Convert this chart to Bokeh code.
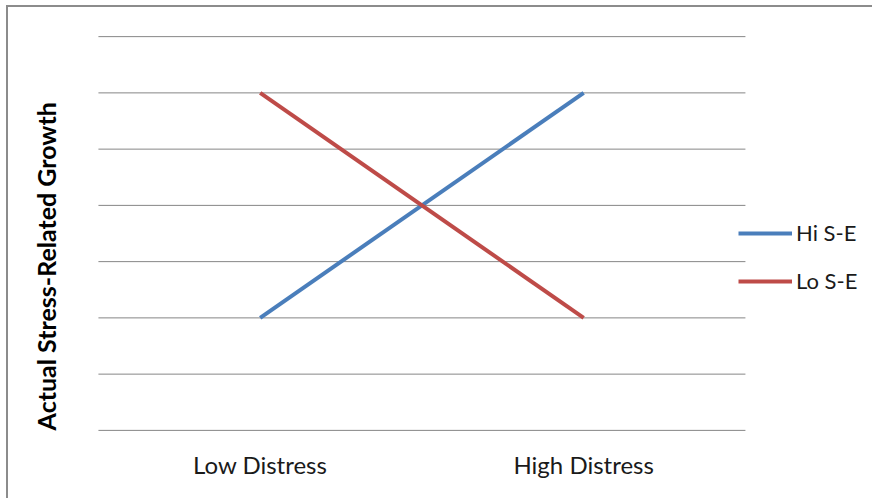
import math
from bokeh.plotting import figure
from bokeh.models import Range1d, FixedTicker, Legend
from bokeh.core.properties import value
from bokeh.embed import file_html
from bokeh.resources import INLINE

categories = ["Low Distress", "High Distress"]
hi_se = [2, 6]
lo_se = [6, 2]
grid_ticks = [0, 1, 2, 3, 4, 5, 6, 7]
y_label = "Actual Stress-Related Growth"
series_names = ["Hi S-E", "Lo S-E"]

x_pos = [i + 0.5 for i in range(len(categories))]
n_cat = len(categories)

p = figure(x_range=Range1d(-0.278, 2.399), y_range=Range1d(-0.02, 7.02),
           width=866, height=493, output_backend="svg", toolbar_location=None,
           min_border_left=0, min_border_right=0, min_border_top=28, min_border_bottom=69)
p.styles = {"border-left": "2px solid #8c8c8c", "border-top": "2px solid #8c8c8c",
            "margin-left": "6px", "margin-top": "5px"}
p.outline_line_color = None
p.background_fill_color = "white"
p.border_fill_color = "white"
p.xgrid.grid_line_color = None
p.ygrid.grid_line_color = None

# horizontal gridlines across the category area only
p.segment(x0=0, x1=n_cat, y0=grid_ticks, y1=grid_ticks, line_color="#868686", line_width=1)

p.xaxis.ticker = FixedTicker(ticks=x_pos)
p.xaxis.major_label_overrides = {x: c for x, c in zip(x_pos, categories)}
p.xaxis.axis_line_color = None
p.xaxis.major_tick_line_color = None
p.xaxis.minor_tick_line_color = None
p.xaxis.major_label_text_font = "Lato"
p.xaxis.major_label_text_font_size = "24px"
p.xaxis.major_label_text_color = "#1a1a1a"
p.xaxis.major_label_standoff = 12

p.yaxis.visible = False

# vertical axis title, starting at the bottom gridline
p.text(x=[-0.1636], y=[grid_ticks[0]], text=[y_label], angle=math.pi / 2,
       text_align="left", text_baseline="alphabetic",
       text_font=value("Lato"), text_font_style="bold", text_font_size="25px",
       text_color="#000000")

r1 = p.line(x_pos, hi_se, line_color="#4A7EBB", line_width=4)
r2 = p.line(x_pos, lo_se, line_color="#BE4B48", line_width=4)

legend = Legend(items=[(series_names[0], [r1]), (series_names[1], [r2])], location=(730, 137))
legend.border_line_color = None
legend.background_fill_alpha = 0
legend.padding = 0
legend.margin = 0
legend.spacing = 21
legend.glyph_width = 54
legend.glyph_height = 26
legend.label_height = 26
legend.label_standoff = 4
legend.label_text_font = "Lato"
legend.label_text_font_size = "22px"
legend.label_text_color = "#1a1a1a"
p.add_layout(legend, "center")

open("out.html", "w").write(file_html(p, INLINE))
